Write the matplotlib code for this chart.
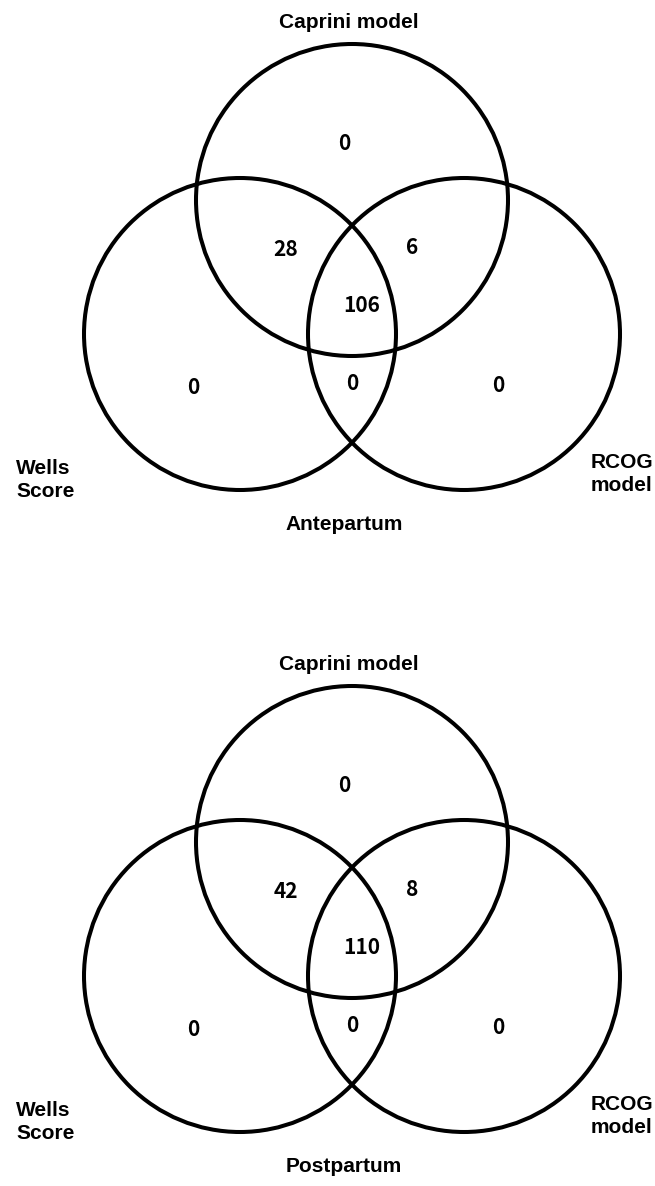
import matplotlib.pyplot as plt
from matplotlib.patches import Circle

# Venn counts per region
regions = ["caprini_only", "wells_caprini", "caprini_rcog", "all_three",
           "wells_only", "wells_rcog", "rcog_only"]
antepartum = [0, 28, 6, 106, 0, 0, 0]
postpartum = [0, 42, 8, 110, 0, 0, 0]

set_names = ["Caprini model", "Wells\nScore", "RCOG\nmodel"]
panel_titles = ["Antepartum", "Postpartum"]

W, H = 655, 1186
fig = plt.figure(figsize=(W / 100, H / 100), dpi=100)
ax = fig.add_axes([0, 0, 1, 1])
ax.set_xlim(0, W)
ax.set_ylim(H, 0)
ax.set_axis_off()

label_font = dict(family="Liberation Sans", fontweight="bold", fontsize=15)
num_font = dict(family=["Noto Sans CJK SC", "DejaVu Sans"], fontweight="bold", fontsize=15)

# circle centres (pixels, relative to panel top) and radius
centres = [(352, 200), (240, 334), (464, 334)]
R = 156

# where each region's count sits
label_pos = {
    "caprini_only": (344, 143),
    "wells_caprini": (286, 249),
    "caprini_rcog": (412, 248),
    "all_three": (362, 305),
    "wells_only": (193, 387),
    "wells_rcog": (352, 384),
    "rcog_only": (498, 386),
}

for i, (vals, title) in enumerate(zip([antepartum, postpartum], panel_titles)):
    dy = i * 642
    for cx, cy in centres:
        ax.add_patch(Circle((cx, cy + dy), R, fill=False, lw=2.9, ec="black"))
    for name, v in zip(regions, vals):
        x, y = label_pos[name]
        ax.text(x, y + dy, str(v), ha="center", va="center", **num_font)
    ax.text(349, 23 + dy, set_names[0], ha="center", va="center", **label_font)
    ax.text(16, 480 + dy, set_names[1], ha="left", va="center",
            linespacing=1.3, **label_font)
    ax.text(591, 474 + dy, set_names[2], ha="left", va="center",
            linespacing=1.3, **label_font)
    ax.text(344, 525 + dy, title, ha="center", va="center", **label_font)

fig.savefig("out.png", dpi=100, facecolor="white")
